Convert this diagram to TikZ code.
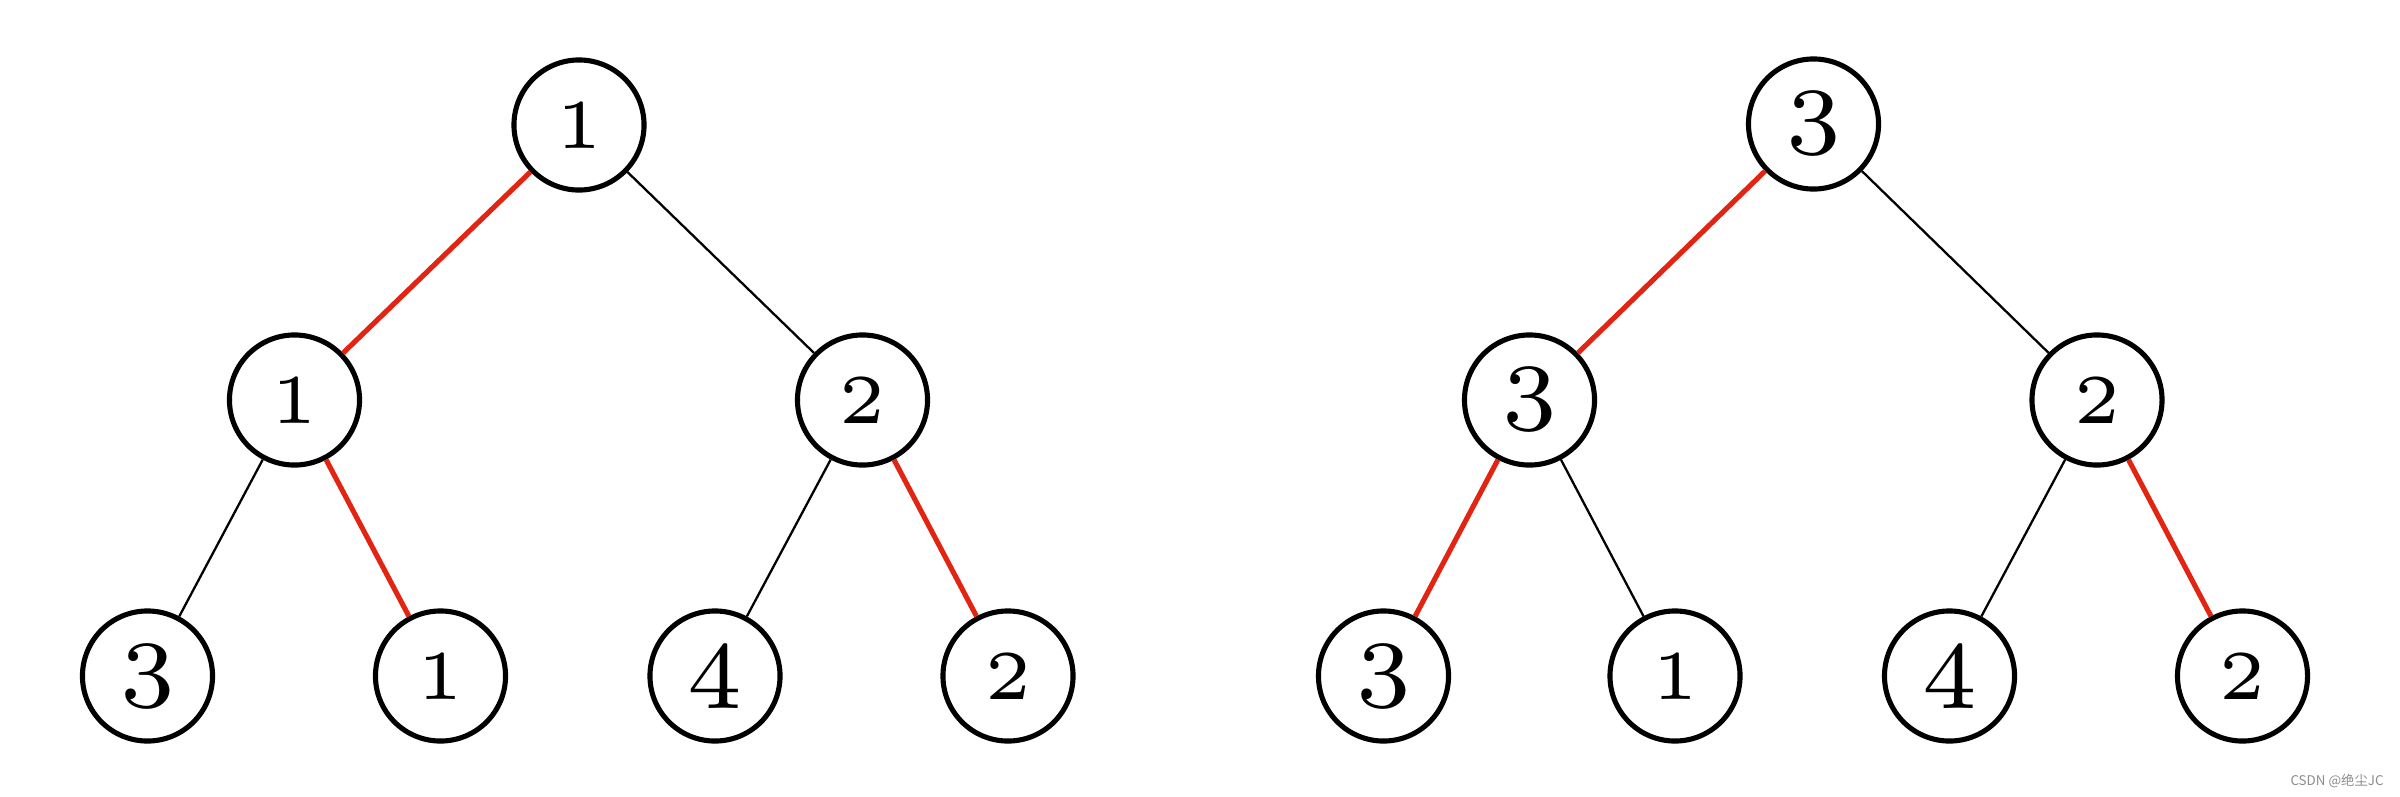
\documentclass[tikz,border=0pt]{standalone}
\usepackage{fontspec}
\usepackage{xcolor}
\usepackage{graphicx}
\usepackage{tikz}
\newfontfamily\cjkfont{Noto Sans CJK SC}
\definecolor{hotred}{RGB}{226,36,18}
\newcommand{\lowkey}[1]{\scalebox{3.98}{\fontsize{5}{6}\selectfont #1}}
\newcommand{\highkey}[1]{\scalebox{3.91}{\fontsize{7}{8}\selectfont #1}}

\begin{document}
\begin{tikzpicture}[
    x=0.01cm, y=-0.01cm,
    nd/.style={circle, draw, line width=1.45pt, fill=white, minimum size=1.3cm, inner sep=0pt},
    link/.style={line width=0.65pt},
    hot/.style={line width=1.45pt, draw=hotred},
]
    \useasboundingbox (0,0) rectangle (2400,797);

    % left tree
    \node[nd] (lr) at (579,125) {\lowkey{1}};
    \node[nd] (la) at (294.5,400) {\lowkey{1}};
    \node[nd] (lb) at (862.5,400) {\lowkey{2}};
    \node[nd] (la1) at (147.5,676) {\highkey{3}};
    \node[nd] (la2) at (440.5,676) {\lowkey{1}};
    \node[nd] (lb1) at (715,676) {\highkey{4}};
    \node[nd] (lb2) at (1008,676) {\lowkey{2}};

    \draw[hot] (lr) -- (la);
    \draw[link] (lr) -- (lb);
    \draw[link] (la) -- (la1);
    \draw[hot] (la) -- (la2);
    \draw[link] (lb) -- (lb1);
    \draw[hot] (lb) -- (lb2);

    % right tree
    \node[nd] (rr) at (1813.5,124) {\highkey{3}};
    \node[nd] (ra) at (1529.5,400) {\highkey{3}};
    \node[nd] (rb) at (2097,400) {\lowkey{2}};
    \node[nd] (ra1) at (1383.5,676) {\highkey{3}};
    \node[nd] (ra2) at (1675,676) {\lowkey{1}};
    \node[nd] (rb1) at (1949.5,676) {\highkey{4}};
    \node[nd] (rb2) at (2242.5,676) {\lowkey{2}};

    \draw[hot] (rr) -- (ra);
    \draw[link] (rr) -- (rb);
    \draw[hot] (ra) -- (ra1);
    \draw[link] (ra) -- (ra2);
    \draw[link] (rb) -- (rb1);
    \draw[hot] (rb) -- (rb2);

    % watermark
    \node[text=black!45, font=\cjkfont\fontsize{3.8}{4.5}\selectfont, inner sep=0pt] (wm) at (2337,781) {CSDN @绝尘JC};
\end{tikzpicture}
\end{document}
